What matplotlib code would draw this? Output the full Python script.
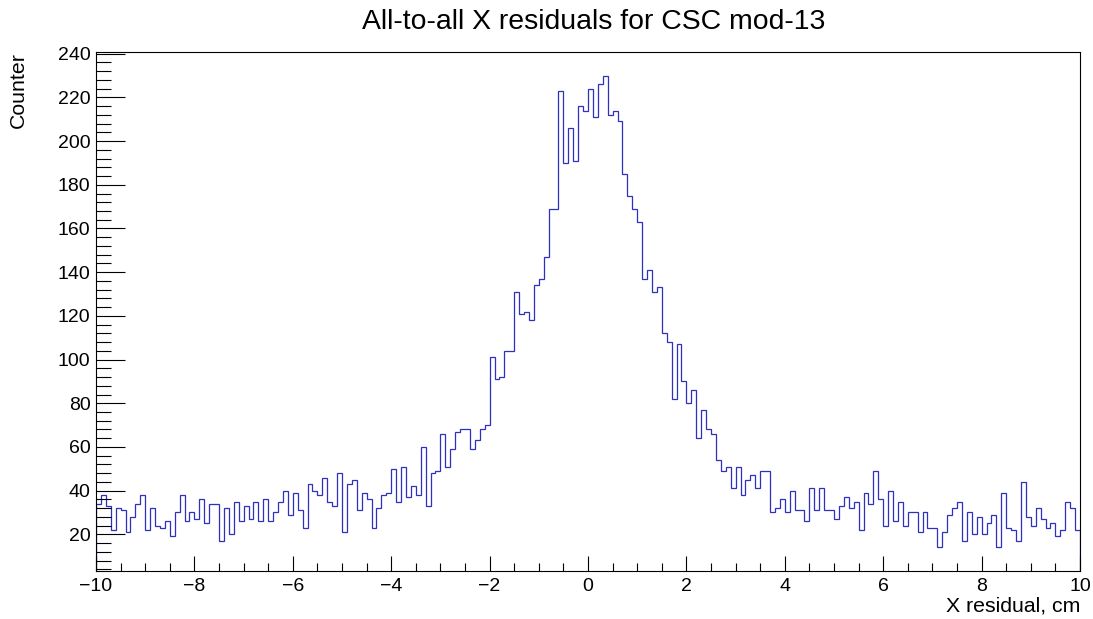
import numpy as np
import matplotlib
matplotlib.use("Agg")
import matplotlib.pyplot as plt
from matplotlib.ticker import MultipleLocator

plt.rcParams['font.family'] = ['Liberation Sans', 'DejaVu Sans']

# histogram: 200 bins from -10 to 10 cm
x_min, x_max, n_bins = -10.0, 10.0, 200
counts = [
    34, 38, 33, 22, 32, 31, 21, 28, 34, 38,
    22, 32, 24, 23, 26, 19, 30, 38, 26, 30,
    27, 36, 25, 34, 34, 17, 32, 20, 35, 26,
    33, 27, 35, 26, 36, 26, 30, 35, 40, 29,
    39, 31, 23, 43, 40, 38, 46, 35, 33, 48,
    21, 43, 45, 31, 39, 36, 23, 32, 38, 39,
    50, 35, 51, 37, 42, 38, 60, 33, 48, 49,
    66, 51, 59, 67, 68, 68, 59, 63, 68, 70,
    101, 91, 92, 104, 104, 131, 121, 122, 118, 134,
    137, 147, 169, 169, 223, 190, 206, 191, 216, 214,
    224, 211, 226, 230, 212, 214, 209, 185, 175, 169,
    163, 137, 141, 131, 133, 112, 108, 82, 107, 90,
    80, 86, 64, 77, 68, 66, 54, 49, 51, 41,
    51, 38, 45, 47, 41, 49, 49, 30, 32, 36,
    30, 40, 31, 31, 26, 41, 31, 41, 31, 31,
    27, 33, 37, 32, 35, 22, 39, 34, 49, 36,
    24, 40, 26, 35, 24, 30, 30, 21, 30, 23,
    23, 14, 21, 29, 32, 35, 17, 30, 20, 28,
    20, 25, 29, 14, 39, 23, 22, 17, 44, 28,
    24, 32, 27, 23, 25, 19, 22, 35, 32, 22,
]

title = "All-to-all X residuals for CSC mod-13"
x_label = "X residual, cm"
y_label = "Counter"

edges = np.linspace(x_min, x_max, n_bins + 1)
counts = np.array(counts, dtype=float)

# ROOT-like automatic y range (5% margins)
c_min, c_max = counts.min(), counts.max()
y_lo = c_min - 0.05 * (c_max - c_min)
y_hi = c_max + 0.05 * (c_max - c_min)

fig = plt.figure(figsize=(10.93, 6.19), dpi=100)
ax = fig.add_axes([96 / 1093, 1 - 571 / 619, (1080 - 96) / 1093, (571 - 52) / 619])

ax.stairs(counts, edges, baseline=y_lo, color='#2f2fc0', linewidth=0.9)

ax.set_xlim(x_min, x_max)
ax.set_ylim(y_lo, y_hi)

ax.xaxis.set_major_locator(MultipleLocator(2))
ax.xaxis.set_minor_locator(MultipleLocator(0.5))
ax.yaxis.set_major_locator(MultipleLocator(20))
ax.yaxis.set_minor_locator(MultipleLocator(4))

ax.tick_params(axis='x', which='major', direction='in', length=11, width=0.8,
               labelsize=14, pad=5, top=False)
ax.tick_params(axis='x', which='minor', direction='in', length=5.5, width=0.8, top=False)
ax.tick_params(axis='y', which='major', direction='in', length=21, width=0.8,
               labelsize=14, pad=4, right=False)
ax.tick_params(axis='y', which='minor', direction='in', length=10.5, width=0.8, right=False)

for s in ax.spines.values():
    s.set_linewidth(0.8)
    s.set_color('black')

fig.text(594 / 1093, 1 - 22 / 619, title, ha='center', va='center', fontsize=20.4)
fig.text(1080 / 1093, 1 - 606 / 619, x_label, ha='right', va='center', fontsize=15.3)
fig.text(18 / 1093, 1 - 52 / 619, y_label, ha='center', va='top', rotation=90, fontsize=15.3)

fig.savefig("out.png", dpi=100)
